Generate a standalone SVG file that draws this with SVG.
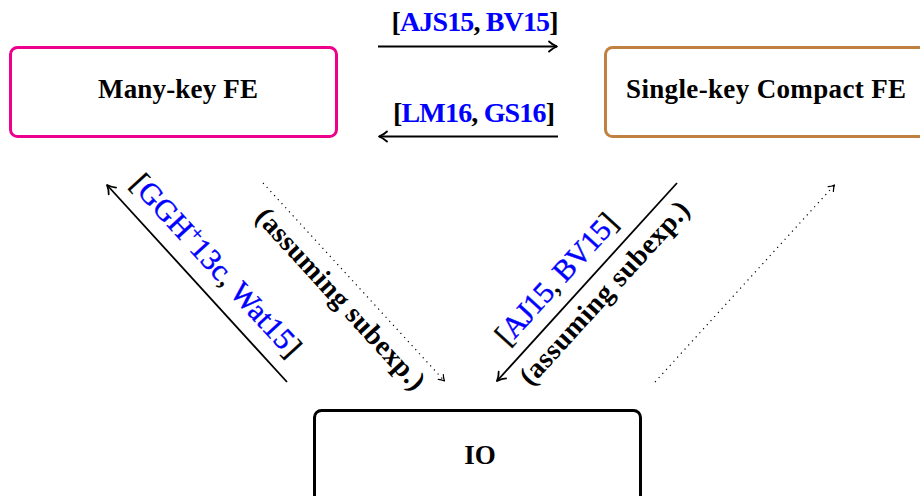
<svg xmlns="http://www.w3.org/2000/svg" width="920" height="496" viewBox="0 0 920 496">
<style>
  .box { fill: #ffffff; stroke-width: 3; }
  .title { font-family: "Liberation Serif", "DejaVu Serif", serif; font-weight: bold; font-size: 27px; fill: #000; }
  .lbl { font-family: "Liberation Serif", "DejaVu Serif", serif; font-size: 28px; fill: #000; }
  .reg { font-size: 30px; stroke: #000; stroke-width: 0.45; }
  .reg .cite { stroke: #0000ff; }
  .b { font-weight: bold; }
  .cite { fill: #0000ff; }
  .solid { stroke: #000; stroke-width: 1.8; fill: none; }
  .dotted { stroke: #000; stroke-width: 1.2; fill: none; stroke-dasharray: 1.2 4.3; }
</style>
<defs>
  <marker id="head" markerUnits="userSpaceOnUse" markerWidth="20" markerHeight="20" viewBox="-10 -10 20 20" refX="0" refY="0" orient="auto">
    <path d="M-8,-5 C-5,-2 -1.5,-0.6 0,0 C-1.5,0.6 -5,2 -8,5" fill="none" stroke="#000" stroke-width="1.8" stroke-linecap="round" stroke-linejoin="round"/>
  </marker>
  <marker id="headsm" markerUnits="userSpaceOnUse" markerWidth="20" markerHeight="20" viewBox="-10 -10 20 20" refX="0" refY="0" orient="auto">
    <path d="M-5.5,-3.5 C-3.5,-1.4 -1,-0.4 0,0 C-1,0.4 -3.5,1.4 -5.5,3.5" fill="none" stroke="#000" stroke-width="1.2" stroke-linecap="round" stroke-linejoin="round"/>
  </marker>
</defs>
<rect width="920" height="496" fill="#ffffff"/>

<g id="node-manykey">
  <rect class="box" x="10.5" y="47.5" width="326" height="89" rx="7" stroke="#EC008C"/>
  <text class="title" x="178" y="98" text-anchor="middle" textLength="160" lengthAdjust="spacing">Many-key FE</text>
</g>

<g id="node-singlekey">
  <rect class="box" x="605.5" y="47.5" width="326" height="89" rx="7" stroke="#BF8040"/>
  <text class="title" x="766" y="98" text-anchor="middle" textLength="280" lengthAdjust="spacing">Single-key Compact FE</text>
</g>

<g id="node-io">
  <rect class="box" x="314.5" y="410.5" width="326" height="100" rx="7" stroke="#000000"/>
  <text class="title" x="480" y="464" text-anchor="middle">IO</text>
</g>

<g id="connectors">
  <line class="solid" x1="378" y1="46.5" x2="557" y2="46.5" marker-end="url(#head)"/>
  <line class="solid" x1="558" y1="136.5" x2="379" y2="136.5" marker-end="url(#head)"/>
  <line class="solid" x1="287" y1="382" x2="107" y2="185" marker-end="url(#head)"/>
  <line class="dotted" x1="263" y1="183" x2="444.5" y2="381" marker-end="url(#headsm)"/>
  <line class="solid" x1="677" y1="183" x2="497" y2="381" marker-end="url(#head)"/>
  <line class="dotted" x1="655" y1="382" x2="834.5" y2="185" marker-end="url(#headsm)"/>

  <text class="lbl b" x="475" y="31" text-anchor="middle" textLength="167" lengthAdjust="spacing">[<tspan class="cite">AJS15</tspan>, <tspan class="cite">BV15</tspan>]</text>
  <text class="lbl b" x="474" y="122" text-anchor="middle" textLength="162" lengthAdjust="spacing">[<tspan class="cite">LM16</tspan>, <tspan class="cite">GS16</tspan>]</text>

  <text class="lbl reg" transform="translate(209,272) rotate(47.5)" text-anchor="middle" textLength="236" lengthAdjust="spacing">[<tspan class="cite">GGH</tspan><tspan class="cite" font-size="20" dy="-11">+</tspan><tspan class="cite" dy="11">13c</tspan>, <tspan class="cite">Wat15</tspan>]</text>
  <text class="lbl b" transform="translate(334,305) rotate(47.5)" text-anchor="middle" textLength="236" lengthAdjust="spacing">(assuming subexp.)</text>

  <text class="lbl reg" transform="translate(563.5,285.5) rotate(-47.7)" text-anchor="middle" textLength="166" lengthAdjust="spacing">[<tspan class="cite">AJ15</tspan>, <tspan class="cite">BV15</tspan>]</text>
  <text class="lbl b" transform="translate(611,299) rotate(-47.7)" text-anchor="middle" textLength="238" lengthAdjust="spacing">(assuming subexp.)</text>
</g>
</svg>
